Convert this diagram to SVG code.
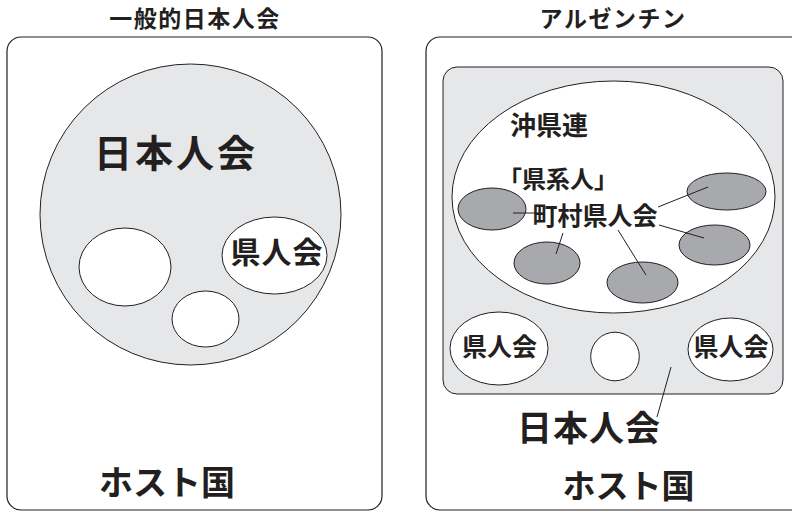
<svg xmlns="http://www.w3.org/2000/svg" width="792" height="512" viewBox="0 0 792 512">
<style>
text{font-family:"Noto Sans CJK JP","Noto Sans CJK SC",sans-serif;fill:#231f20;text-anchor:middle;font-weight:700}
.frame{fill:#fff;stroke:#231f20;stroke-width:1.2}
.lg{fill:#e6e7e8;stroke:#231f20;stroke-width:1}
.wh{fill:#fff;stroke:#231f20;stroke-width:1}
.dk{fill:#a7a9ac;stroke:#231f20;stroke-width:1}
.ln{stroke:#231f20;stroke-width:1;fill:none}
</style>
<rect width="792" height="512" fill="#fff"/>
<g id="left-panel">
<text x="195" y="27" font-size="23" letter-spacing="1.5">一般的日本人会</text>
<rect class="frame" x="7" y="37" width="375" height="473" rx="14"/>
<g id="left-nihonjinkai">
<circle class="lg" cx="190.5" cy="214.5" r="150.5"/>
<text x="176" y="167" font-size="38" letter-spacing="3">日本人会</text>
</g>
<g id="left-e1"><ellipse class="wh" cx="125" cy="267" rx="46" ry="39"/></g>
<g id="left-e2"><ellipse class="wh" cx="205.5" cy="319" rx="33.5" ry="28"/></g>
<g id="left-kenjinkai">
<ellipse class="wh" cx="274.5" cy="255.5" rx="52.5" ry="38.5"/>
<text x="277" y="263" font-size="30" letter-spacing="1">県人会</text>
</g>
<text x="167" y="495" font-size="34">ホスト国</text>
</g>
<g id="right-panel">
<text x="613" y="27" font-size="23" letter-spacing="1.5">アルゼンチン</text>
<rect class="frame" x="426" y="37" width="390" height="473" rx="14"/>
<g id="right-nihonjinkai">
<rect class="lg" x="443" y="67" width="340" height="327" rx="14"/>
<text x="589" y="441" font-size="35" letter-spacing="1">日本人会</text>
</g>
<g id="okikenren">
<ellipse class="wh" cx="613.5" cy="197" rx="161.5" ry="116"/>
<text x="549" y="135" font-size="26">沖県連</text>
<text x="558" y="188" font-size="24">「県系人」</text>
<text x="595" y="225" font-size="25">町村県人会</text>
</g>
<g id="chouson">
<ellipse class="dk" cx="492" cy="209" rx="34" ry="21"/>
<ellipse class="dk" cx="726.5" cy="191.5" rx="39.5" ry="18.5"/>
<ellipse class="dk" cx="714.5" cy="245" rx="35.5" ry="20"/>
<ellipse class="dk" cx="547" cy="263" rx="33" ry="21"/>
<ellipse class="dk" cx="642.5" cy="282.5" rx="35.5" ry="20.5"/>
</g>
<g id="right-kenjinkai-1">
<ellipse class="wh" cx="499" cy="348.5" rx="49" ry="36.5"/>
<text x="499.5" y="356" font-size="25">県人会</text>
</g>
<g id="right-circle"><circle class="wh" cx="615" cy="356.5" r="24.3"/></g>
<g id="right-kenjinkai-2">
<ellipse class="wh" cx="730.5" cy="349.5" rx="42.5" ry="31.5"/>
<text x="731" y="356" font-size="25">県人会</text>
</g>
<text x="628.5" y="498" font-size="33">ホスト国</text>
</g>
<g id="connectors">
<line class="ln" x1="513" y1="213" x2="535" y2="213"/>
<line class="ln" x1="658" y1="207" x2="708" y2="187"/>
<line class="ln" x1="659" y1="225" x2="704" y2="238"/>
<line class="ln" x1="563" y1="233" x2="556" y2="254"/>
<line class="ln" x1="618" y1="230" x2="646" y2="275"/>
<line class="ln" x1="671" y1="367" x2="657" y2="417"/>
</g>
</svg>
